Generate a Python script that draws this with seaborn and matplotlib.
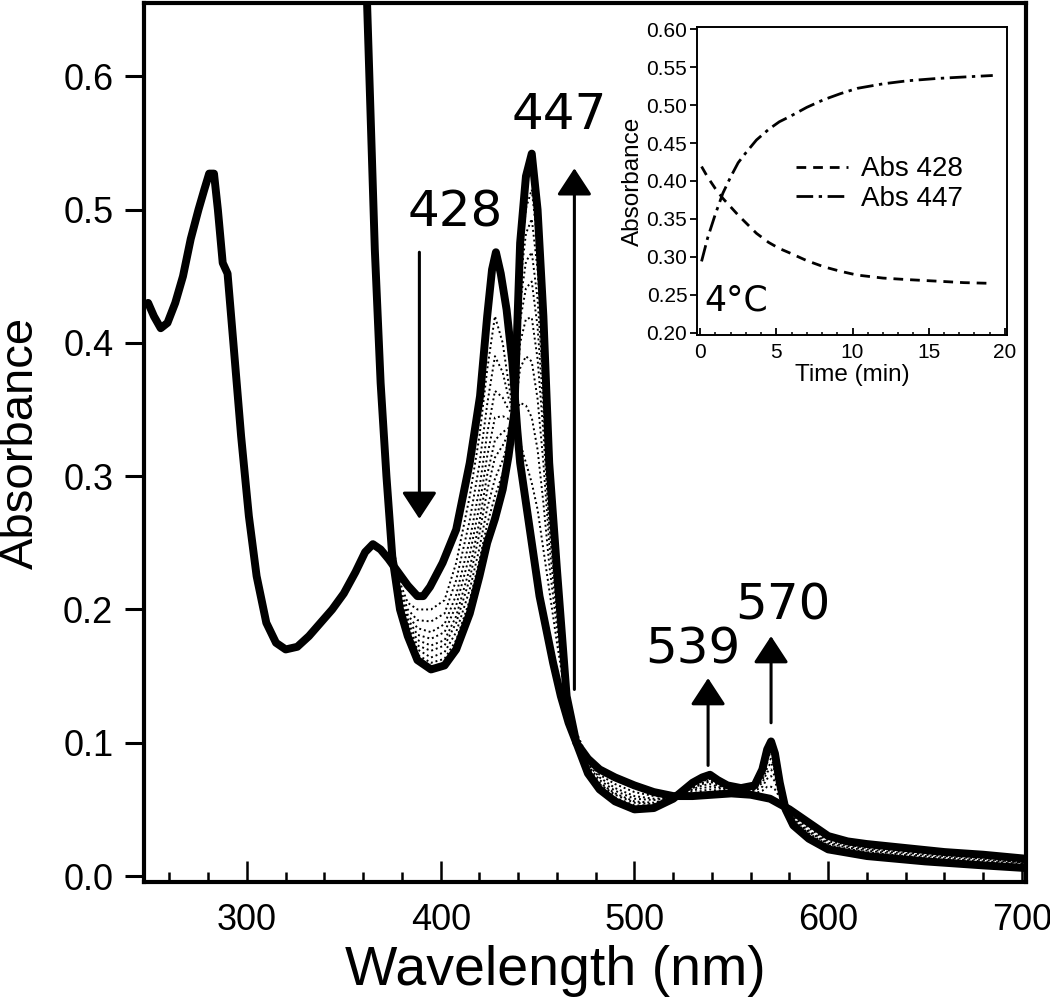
import matplotlib
matplotlib.use("Agg")
import matplotlib.pyplot as plt
import seaborn as sns
import numpy as np
import pandas as pd

# ---------------- data ----------------
# spectrum before the compound (thick curve with 280 / 428 nm bands)
wl_free = [249, 252, 255.5, 259, 263, 267, 271, 275, 278, 280.5,
           283, 285, 287.5, 290, 293, 297, 301, 305, 310, 315,
           320, 326, 332, 338, 344, 350, 356, 361, 365, 369,
           373, 378, 383, 388, 391, 394.5, 401, 408, 415, 420.3,
           424, 426.5, 428.5, 431, 434, 437, 439.5, 441, 446, 451,
           458, 462, 466, 470, 476, 482, 490, 500, 510, 520,
           530, 540, 550, 560, 570, 580, 590, 600, 610, 620,
           640, 660, 680, 702]
abs_free = [0.43, 0.42, 0.411, 0.415, 0.43, 0.45, 0.478, 0.50, 0.515, 0.527,
            0.527, 0.50, 0.46, 0.452, 0.40, 0.33, 0.27, 0.225, 0.19, 0.175,
            0.17, 0.172, 0.18, 0.19, 0.20, 0.212, 0.228, 0.243, 0.249, 0.245,
            0.238, 0.228, 0.218, 0.21, 0.21, 0.217, 0.235, 0.26, 0.31, 0.36,
            0.42, 0.455, 0.468, 0.452, 0.425, 0.385, 0.335, 0.31, 0.26, 0.21,
            0.16, 0.135, 0.115, 0.10, 0.088, 0.08, 0.074, 0.068, 0.063, 0.06,
            0.06, 0.061, 0.062, 0.061, 0.058, 0.05, 0.04, 0.03, 0.026, 0.024,
            0.021, 0.018, 0.016, 0.013]

# time course spectra (dotted), shared wavelength grid
wl_kin = [356, 362, 366, 369, 372, 375, 379, 383, 388, 395,
          402, 408, 415, 420, 424, 428, 432, 435, 438, 441,
          444, 447, 450, 453, 456, 460, 465, 470, 476, 482,
          490, 500, 510, 520, 530, 535, 539, 543, 548, 555,
          562, 566, 568.5, 570.5, 572.5, 575, 578, 582, 590, 600,
          620, 650, 680, 702]
abs_t0 = [.90, .66, .48, .38, .31, .25, .22, .205, .20, .20,
          .207, .235, .285, .33, .38, .42, .40, .37, .345, .325,
          .31, .295, .275, .245, .215, .175, .13, .108, .088, .079,
          .072, .066, .062, .06, .06, .061, .062, .062, .062, .062,
          .061, .06, .06, .059, .058, .056, .053, .048, .04, .03,
          .024, .019, .016, .013]
abs_t1 = [.90, .659, .478, .378, .308, .248, .216, .200, .192, .191,
          .197, .222, .267, .309, .354, .390, .378, .359, .346, .355,
          .353, .344, .320, .280, .234, .186, .131, .106, .086, .076,
          .069, .063, .060, .060, .062, .064, .065, .064, .063, .063,
          .062, .064, .067, .067, .065, .059, .052, .046, .038, .028,
          .022, .017, .014, .012]
abs_t2 = [.90, .658, .476, .376, .306, .246, .213, .196, .186, .183,
          .189, .211, .252, .291, .332, .364, .359, .350, .346, .381,
          .390, .386, .358, .310, .250, .195, .132, .105, .084, .074,
          .066, .060, .058, .059, .064, .066, .067, .066, .064, .063,
          .064, .067, .073, .075, .071, .061, .052, .044, .036, .026,
          .021, .016, .013, .010]
abs_t3 = [.90, .658, .475, .375, .305, .245, .210, .193, .181, .178,
          .183, .203, .241, .278, .315, .344, .345, .343, .347, .400,
          .418, .419, .388, .333, .263, .203, .133, .104, .083, .072,
          .064, .058, .057, .059, .065, .068, .069, .067, .065, .064,
          .065, .070, .078, .080, .075, .063, .052, .043, .034, .025,
          .020, .015, .012, .010]
abs_t4 = [.90, .657, .474, .374, .304, .244, .208, .190, .177, .173,
          .177, .195, .231, .266, .301, .327, .333, .336, .347, .417,
          .441, .446, .412, .352, .273, .209, .133, .103, .081, .070,
          .062, .056, .055, .059, .066, .069, .071, .068, .066, .064,
          .065, .072, .081, .085, .079, .065, .051, .042, .033, .024,
          .019, .014, .011, .009]
abs_t5 = [.90, .657, .473, .373, .303, .243, .206, .188, .173, .169,
          .173, .190, .223, .257, .289, .314, .323, .332, .347, .430,
          .461, .468, .433, .368, .282, .214, .134, .102, .080, .069,
          .061, .055, .054, .059, .067, .070, .072, .069, .066, .065,
          .066, .074, .085, .088, .082, .066, .051, .041, .032, .023,
          .018, .013, .010, .008]
abs_t6 = [.90, .656, .472, .372, .302, .242, .204, .185, .170, .164,
          .168, .183, .215, .246, .276, .298, .312, .326, .347, .445,
          .482, .493, .455, .385, .291, .219, .134, .102, .079, .068,
          .059, .053, .053, .058, .068, .071, .073, .070, .067, .065,
          .067, .076, .088, .093, .085, .067, .051, .040, .030, .022,
          .017, .013, .010, .007]
abs_t7 = [.90, .656, .471, .371, .301, .241, .202, .183, .166, .160,
          .163, .177, .207, .237, .264, .285, .302, .321, .348, .459,
          .501, .515, .475, .401, .300, .224, .134, .101, .078, .067,
          .058, .052, .052, .058, .069, .073, .074, .071, .067, .066,
          .067, .078, .091, .096, .088, .068, .050, .039, .029, .021,
          .016, .012, .009, .007]
abs_t8 = [.90, .655, .470, .370, .300, .240, .201, .181, .164, .157,
          .160, .173, .201, .229, .255, .274, .294, .317, .348, .469,
          .516, .532, .491, .413, .306, .228, .135, .100, .077, .066,
          .057, .051, .051, .058, .070, .074, .075, .072, .068, .066,
          .068, .079, .094, .099, .091, .069, .050, .038, .028, .020,
          .015, .011, .008, .006]
# final spectrum (thick, 447 nm band)
abs_final = [.90, .655, .47, .37, .30, .24, .20, .18, .162, .155,
             .158, .17, .197, .225, .25, .268, .29, .315, .348, .475,
             .525, .542, .50, .42, .31, .23, .135, .10, .077, .065,
             .056, .05, .051, .058, .07, .074, .076, .072, .068, .066,
             .068, .08, .095, .101, .092, .07, .05, .038, .028, .02,
             .015, .011, .008, .006]

# inset: kinetics at 428 and 447 nm
t_min = [0.1, 0.5, 1.0, 1.5, 2.0, 2.5, 3.0, 3.7, 4.5, 5.2,
         5.9, 7.0, 8.1, 9.2, 10.3, 12.0, 13.6, 15.5, 17.3, 19.2]
abs_428 = [0.419, 0.405, 0.39, 0.377, 0.366, 0.355, 0.345, 0.331, 0.319, 0.311,
           0.305, 0.295, 0.287, 0.281, 0.276, 0.272, 0.27, 0.268, 0.266, 0.265]
abs_447 = [0.294, 0.325, 0.356, 0.384, 0.405, 0.424, 0.437, 0.454, 0.468, 0.478,
           0.485, 0.497, 0.507, 0.515, 0.522, 0.528, 0.532, 0.535, 0.537, 0.539]

# band labels: (text, wavelength, absorbance)
band_labels = [("428", 407.5, 0.498), ("447", 461, 0.571),
               ("539", 530, 0.170), ("570", 576.5, 0.203)]

# ---------------- build tables ----------------
mid_sets = [abs_t0, abs_t1, abs_t2, abs_t3, abs_t4, abs_t5, abs_t6, abs_t7, abs_t8]
df_mid = pd.concat([pd.DataFrame({"wl": wl_kin, "abs": a, "curve": i})
                    for i, a in enumerate(mid_sets)], ignore_index=True)
df_free = pd.DataFrame({"wl": wl_free, "abs": abs_free})
df_final = pd.DataFrame({"wl": wl_kin, "abs": abs_final})
df_kin = pd.concat([pd.DataFrame({"t": t_min, "abs": abs_428, "trace": "Abs 428"}),
                    pd.DataFrame({"t": t_min, "abs": abs_447, "trace": "Abs 447"})],
                   ignore_index=True)

# ---------------- style ----------------
sns.set_style("ticks")
plt.rcParams['font.family'] = ['Liberation Sans', 'DejaVu Sans']
plt.rcParams['lines.solid_joinstyle'] = 'round'
plt.rcParams['lines.solid_capstyle'] = 'round'
for key in ['text.color', 'axes.labelcolor', 'xtick.color', 'ytick.color',
            'axes.edgecolor']:
    plt.rcParams[key] = 'black'

fig = plt.figure(figsize=(10.5, 9.97), dpi=100)
ax = fig.add_axes([0.137, 0.1153, 0.840, 0.8817])

# dotted intermediate spectra
sns.lineplot(data=df_mid, x="wl", y="abs", units="curve", estimator=None,
             sort=False, color="black", lw=1.4, linestyle=(0, (1, 1.5)),
             legend=False, ax=ax)
# thick spectra
sns.lineplot(data=df_free, x="wl", y="abs", estimator=None, sort=False,
             color="black", lw=5.7, ax=ax)
sns.lineplot(data=df_final, x="wl", y="abs", estimator=None, sort=False,
             color="black", lw=5.7, ax=ax)

ax.set_xlim(246.8, 702)
ax.set_ylim(-0.0045, 0.655)
ax.set_xticks([300, 400, 500, 600, 700])
ax.set_xticks(np.arange(260, 701, 20), minor=True)
ax.set_yticks([0.0, 0.1, 0.2, 0.3, 0.4, 0.5, 0.6])
ax.set_yticklabels(["0.0", "0.1", "0.2", "0.3", "0.4", "0.5", "0.6"])
ax.tick_params(axis="x", which="major", direction="in", length=15, width=1.8,
               labelsize=26, pad=15)
ax.tick_params(axis="x", which="minor", direction="in", length=7.5, width=1.8)
ax.tick_params(axis="y", which="major", direction="out", length=14, width=2.2,
               labelsize=26, pad=8)
for s in ax.spines.values():
    s.set_linewidth(3)
    s.set_visible(True)
ax.set_xlabel("Wavelength (nm)", fontsize=40)
ax.xaxis.label.set_va("baseline")
ax.xaxis.set_label_coords(0.467, -0.1172)
ax.set_ylabel("Absorbance", fontsize=34)
ax.yaxis.set_label_coords(-0.115, 0.5)

# arrows: (x, tail, tip)
arrows = [(389, 0.468, 0.268), (469, 0.14, 0.531),
          (538, 0.083, 0.1485), (570.5, 0.115, 0.180)]
for x, y0, y1 in arrows:
    ax.annotate("", xy=(x, y1), xytext=(x, y0),
                arrowprops=dict(arrowstyle="-|>,head_length=0.55,head_width=0.36",
                                lw=2.2, color="black", shrinkA=0, shrinkB=0,
                                mutation_scale=30))
for txt, x, y in band_labels:
    ax.text(x, y, txt, fontsize=36, family="DejaVu Sans",
            ha="center", va="center")

# ---------------- inset ----------------
ax_in = fig.add_axes([0.6638, 0.664, 0.2952, 0.309])
sns.lineplot(data=df_kin, x="t", y="abs", style="trace",
             dashes={"Abs 428": (3.5, 2.5), "Abs 447": (6, 2, 1.2, 2)},
             color="black", lw=2.0, ax=ax_in)
ax_in.set_xlim(-0.2, 20.13)
ax_in.set_ylim(0.197, 0.603)
ax_in.set_xticks([0, 5, 10, 15, 20])
ax_in.set_xticks(np.arange(0, 21, 1), minor=True)
ax_in.set_yticks(np.arange(0.20, 0.601, 0.05))
ax_in.set_yticklabels([f"{v:.2f}" for v in np.arange(0.20, 0.601, 0.05)])
ax_in.tick_params(axis="x", which="major", direction="in", length=5, width=1.3,
                  labelsize=15, pad=6)
ax_in.tick_params(axis="x", which="minor", direction="in", length=2.5, width=1.1)
ax_in.tick_params(axis="y", direction="out", length=5, width=1.3,
                  labelsize=15, pad=2)
for s in ax_in.spines.values():
    s.set_linewidth(1.4)
ax_in.set_xlabel("Time (min)", fontsize=17.5, labelpad=1)
ax_in.set_ylabel("Absorbance", fontsize=17.5, labelpad=2)
ax_in.legend(title=None, frameon=False, loc="upper left",
             bbox_to_anchor=(0.32, 0.58), fontsize=20, handlelength=1.85,
             handletextpad=0.5, labelspacing=0.12, borderaxespad=0, borderpad=0)
ax_in.text(2.4, 0.243, "4°C", fontsize=25, family="DejaVu Sans",
           ha="center", va="center")

fig.savefig("out.png", dpi=100)
